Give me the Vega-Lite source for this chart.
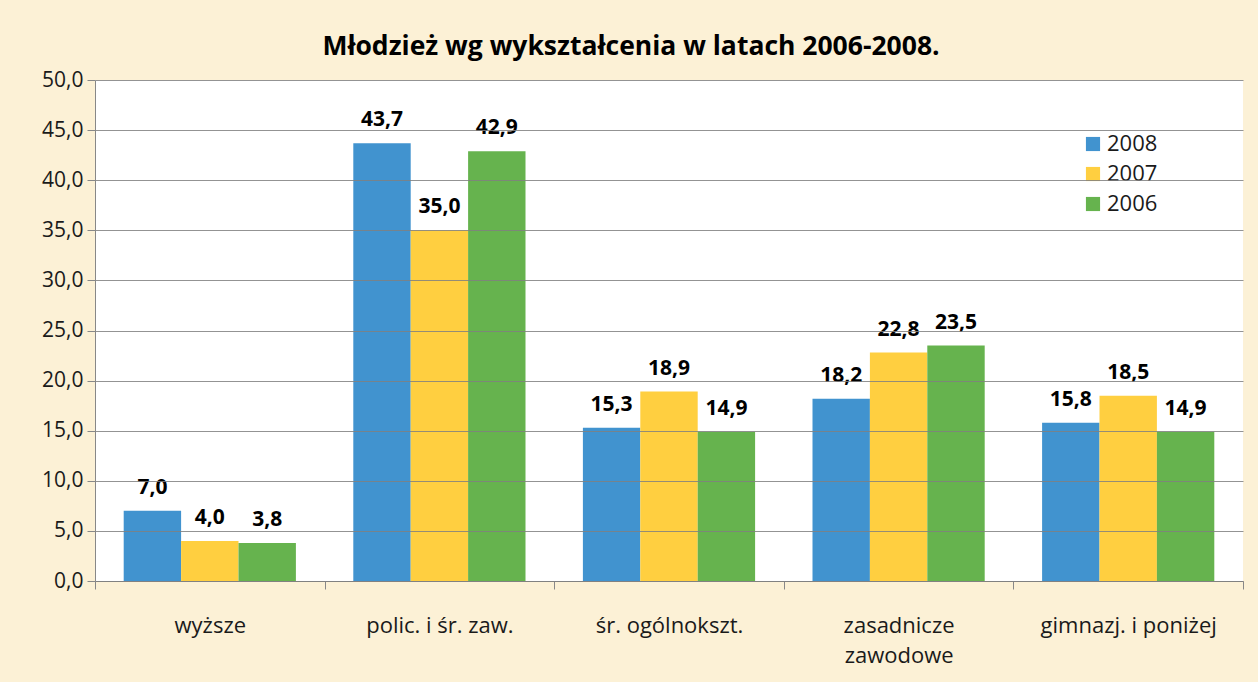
{
  "$schema": "https://vega.github.io/schema/vega-lite/v6.json",
  "width": 1148,
  "height": 501,
  "autosize": {"type": "none"},
  "padding": {"left": 95, "top": 80, "right": 15, "bottom": 101},
  "background": "#FCF1D6",
  "config": {
    "locale": {"number": {"decimal": ",", "thousands": " ", "grouping": [3], "currency": ["", " zł"]}},
    "view": {"fill": "white", "stroke": null},
    "font": "Open Sans"
  },
  "title": {
    "text": "Młodzież wg wykształcenia w latach 2006-2008.",
    "font": "Open Sans",
    "fontSize": 26.5,
    "fontWeight": "bold",
    "color": "#000000",
    "anchor": "middle",
    "dx": -38,
    "offset": 9
  },
  "data": {
    "values": [
      {"kategoria": "wyższe", "rok": "2008", "wartosc": 7.0},
      {"kategoria": "wyższe", "rok": "2007", "wartosc": 4.0},
      {"kategoria": "wyższe", "rok": "2006", "wartosc": 3.8},
      {"kategoria": "polic. i śr. zaw.", "rok": "2008", "wartosc": 43.7},
      {"kategoria": "polic. i śr. zaw.", "rok": "2007", "wartosc": 35.0},
      {"kategoria": "polic. i śr. zaw.", "rok": "2006", "wartosc": 42.9},
      {"kategoria": "śr. ogólnokszt.", "rok": "2008", "wartosc": 15.3},
      {"kategoria": "śr. ogólnokszt.", "rok": "2007", "wartosc": 18.9},
      {"kategoria": "śr. ogólnokszt.", "rok": "2006", "wartosc": 14.9},
      {"kategoria": "zasadnicze zawodowe", "rok": "2008", "wartosc": 18.2},
      {"kategoria": "zasadnicze zawodowe", "rok": "2007", "wartosc": 22.8},
      {"kategoria": "zasadnicze zawodowe", "rok": "2006", "wartosc": 23.5},
      {"kategoria": "gimnazj. i poniżej", "rok": "2008", "wartosc": 15.8},
      {"kategoria": "gimnazj. i poniżej", "rok": "2007", "wartosc": 18.5},
      {"kategoria": "gimnazj. i poniżej", "rok": "2006", "wartosc": 14.9}
    ]
  },
  "encoding": {
    "x": {
      "field": "kategoria",
      "type": "nominal",
      "sort": null,
      "scale": {"paddingInner": 0, "paddingOuter": 0},
      "axis": {
        "title": null,
        "labelAngle": 0,
        "labelFont": "Open Sans",
        "labelFontSize": 22,
        "labelColor": "#1a1a1a",
        "labelPadding": 26,
        "labelLineHeight": 30,
        "labelBaseline": "top",
        "labelExpr": "datum.value == 'zasadnicze zawodowe' ? ['zasadnicze', 'zawodowe'] : datum.value",
        "domainColor": "#888888",
        "tickColor": "#888888",
        "tickSize": 8,
        "tickBand": "extent",
        "grid": false
      }
    },
    "xOffset": {"field": "rok", "type": "nominal", "sort": ["2008", "2007", "2006"], "scale": {"paddingInner": 0, "paddingOuter": 0.5}},
    "y": {
      "field": "wartosc",
      "type": "quantitative",
      "scale": {"domain": [0, 50], "nice": false},
      "axis": {
        "title": null,
        "values": [0, 5, 10, 15, 20, 25, 30, 35, 40, 45, 50],
        "format": ".1f",
        "labelFont": "Open Sans",
        "labelFontSize": 21,
        "labelColor": "#1a1a1a",
        "labelPadding": 4,
        "tickSize": 8,
        "tickColor": "#888888",
        "domainColor": "#888888",
        "gridColor": "#808080",
        "gridOpacity": 0.85,
        "zindex": 1
      }
    }
  },
  "layer": [
    {
      "mark": {"type": "bar"},
      "encoding": {
        "color": {
          "field": "rok",
          "type": "nominal",
          "sort": ["2008", "2007", "2006"],
          "scale": {"domain": ["2008", "2007", "2006"], "range": ["#4193CF", "#FFCF40", "#66B34E"]},
          "legend": {
            "title": null,
            "orient": "none",
            "legendX": 987,
            "legendY": 53,
            "symbolType": "square",
            "symbolSize": 200,
            "symbolStrokeWidth": 0,
            "symbolOpacity": 1,
            "labelFont": "Open Sans",
            "labelFontSize": 22,
            "labelColor": "#1a1a1a",
            "rowPadding": 8,
            "labelOffset": 3
          }
        }
      }
    },
    {
      "mark": {"type": "text", "baseline": "alphabetic", "dy": -17, "font": "Open Sans", "fontSize": 21, "fontWeight": "bold", "color": "#000000"},
      "encoding": {
        "text": {"field": "wartosc", "type": "quantitative", "format": ".1f"}
      }
    }
  ]
}
